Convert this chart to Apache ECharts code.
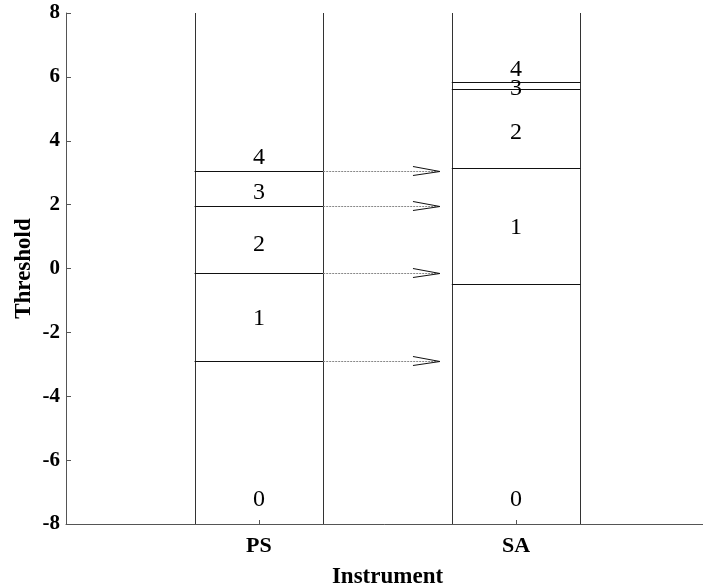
<!DOCTYPE html>
<html>
<head>
<meta charset="utf-8">
<script src="https://cdn.jsdelivr.net/npm/echarts@6/dist/echarts.min.js"></script>
<style>html,body{margin:0;padding:0;background:#fff;}#c{width:703px;height:588px;}</style>
</head>
<body>
<div id="c"></div>
<script>
var categories = ['PS', 'SA'];
var psThresholds = [-2.90, -0.14, 1.96, 3.05];
var saThresholds = [-0.49, 3.14, 5.61, 5.85];
var levelLabels = ['0', '1', '2', '3', '4'];
var psLabelPos = [-7.25, -1.58, 0.75, 2.36, 3.46];
var saLabelPos = [-7.25, 1.27, 4.24, 5.64, 6.23];
var yMin = -8, yMax = 8, yStep = 2;

var thresholds = [psThresholds, saThresholds];
var labelPos = [psLabelPos, saLabelPos];
var SERIF = "'Liberation Serif', 'Times New Roman', serif";

function boxRender(params, api) {
  var i = api.value(0);
  var cx = i + 1;
  var children = [];
  var l = cx - 0.25, r = cx + 0.25;
  [l, r].forEach(function (x) {
    var a = api.coord([x, yMin]), b = api.coord([x, yMax]);
    children.push({type: 'line', shape: {x1: Math.round(a[0]) + 0.5, y1: a[1], x2: Math.round(b[0]) + 0.5, y2: b[1]},
      style: {stroke: '#333', lineWidth: 1}});
  });
  thresholds[i].forEach(function (v) {
    var a = api.coord([l, v]), b = api.coord([r, v]);
    children.push({type: 'line', shape: {x1: a[0], y1: Math.round(a[1]) + 0.5, x2: b[0], y2: Math.round(a[1]) + 0.5},
      style: {stroke: '#111', lineWidth: 1}});
  });
  labelPos[i].forEach(function (v, k) {
    var p = api.coord([cx, v]);
    children.push({type: 'text', x: p[0], y: p[1], style: {text: levelLabels[k], fill: '#000',
      font: '24px ' + SERIF, align: 'center', verticalAlign: 'middle'}});
  });
  return {type: 'group', children: children};
}

function arrowRender(params, api) {
  var v = api.value(0);
  var a = api.coord([1.25, v]);
  var b = api.coord([1.704, v]);
  var y = Math.round(a[1]) + 0.5;
  var hx = b[0] - 27;
  return {type: 'group', children: [
    {type: 'line', shape: {x1: a[0], y1: y, x2: b[0], y2: y},
      style: {stroke: '#888', lineWidth: 1, lineDash: [2, 1]}},
    {type: 'polyline', shape: {points: [[hx, y - 5], [b[0], y], [hx, y + 4]]},
      style: {stroke: '#111', lineWidth: 1, fill: null}}
  ]};
}

var chart = echarts.init(document.getElementById('c'));
chart.setOption({
  backgroundColor: '#fff',
  animation: false,
  grid: {left: 66, top: 13, bottom: 64, right: -6, containLabel: false, outerBoundsMode: 'none'},
  xAxis: {
    type: 'value', min: 0.25, max: 2.75,
    name: 'Instrument', nameLocation: 'middle', nameGap: 42, nameMoveOverlap: false,
    nameTextStyle: {fontFamily: SERIF, fontWeight: 'bold', fontSize: 23, color: '#000'},
    axisLine: {show: true, onZero: false, lineStyle: {color: '#555', width: 1}},
    axisTick: {show: true, inside: true, length: 4, customValues: [1, 2], lineStyle: {color: '#555'}},
    axisLabel: {show: true, customValues: [1, 2], margin: 11,
      formatter: function (v) { return categories[Math.round(v) - 1] || ''; },
      fontFamily: SERIF, fontWeight: 'bold', fontSize: 22, color: '#000'},
    splitLine: {show: false}
  },
  yAxis: {
    type: 'value', min: yMin, max: yMax, interval: yStep,
    name: 'Threshold', nameLocation: 'middle', nameGap: 30, nameMoveOverlap: false,
    nameTextStyle: {fontFamily: SERIF, fontWeight: 'bold', fontSize: 23, color: '#000'},
    axisLine: {show: true, onZero: false, lineStyle: {color: '#555', width: 1}},
    axisTick: {show: true, inside: true, length: 5, lineStyle: {color: '#555'}},
    axisLabel: {margin: 6, fontFamily: SERIF, fontWeight: 'bold', fontSize: 21, color: '#000'},
    splitLine: {show: false}
  },
  series: [
    {type: 'custom', renderItem: boxRender, data: [[0], [1]], clip: false, silent: true},
    {type: 'custom', renderItem: arrowRender, data: psThresholds.map(function (v) { return [v]; }), clip: false, silent: true}
  ]
});
</script>
</body>
</html>
